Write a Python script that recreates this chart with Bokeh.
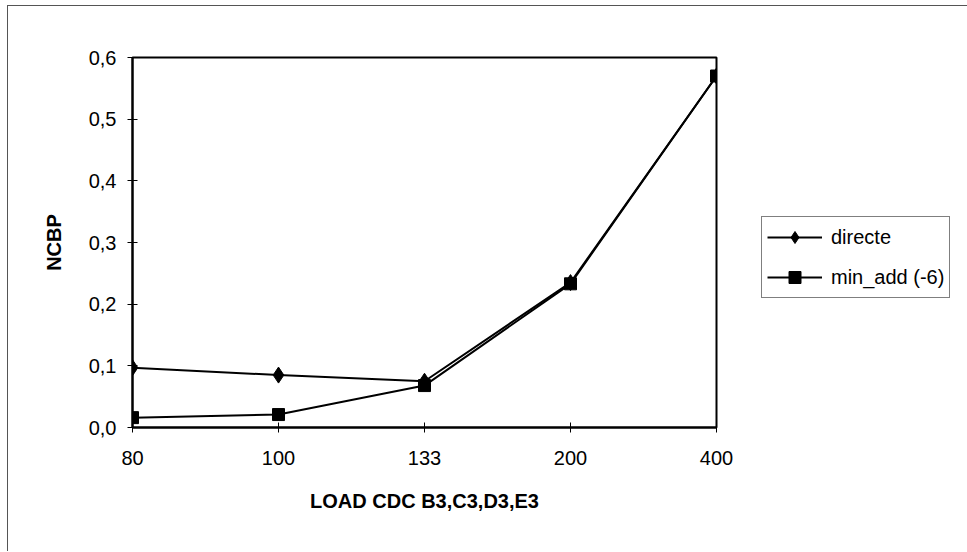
from bokeh.plotting import figure
from bokeh.models import FixedTicker, CustomJSTickFormatter, Legend, LegendItem, ColumnDataSource
from bokeh.embed import file_html
from bokeh.resources import INLINE

categories = ["80", "100", "133", "200", "400"]
directe = [0.097, 0.085, 0.075, 0.235, 0.570]
min_add = [0.016, 0.021, 0.068, 0.233, 0.570]
y_ticks = [0.0, 0.1, 0.2, 0.3, 0.4, 0.5, 0.6]
series_names = ["directe", "min_add (-6)"]

xs = list(range(len(categories)))
FONT = "Liberation Sans"

p = figure(width=958, height=545, output_backend="svg", toolbar_location=None,
           x_range=(0, len(categories) - 1), y_range=(y_ticks[0], y_ticks[-1]),
           frame_width=584, frame_height=370,
           min_border_left=124, min_border_right=250, min_border_top=51, min_border_bottom=124)
p.styles = {"border-left": "1px solid #555", "border-top": "1px solid #555",
            "margin-left": "7px", "margin-top": "5px"}
p.xgrid.visible = False
p.ygrid.visible = False
p.outline_line_color = "black"
p.outline_line_width = 2
p.background_fill_color = "white"
p.border_fill_color = "white"

src1 = ColumnDataSource(dict(x=xs, y=directe))
src2 = ColumnDataSource(dict(x=xs, y=min_add))
l1 = p.line("x", "y", source=src1, line_color="black", line_width=2)
m1 = p.scatter("x", "y", source=src1, marker="diamond", size=16, fill_color="black", line_color="black")
l2 = p.line("x", "y", source=src2, line_color="black", line_width=2)
m2 = p.scatter("x", "y", source=src2, marker="square", size=12, fill_color="black", line_color="black")

for ax in (p.xaxis[0], p.yaxis[0]):
    ax.axis_line_color = "black"
    ax.axis_line_width = 2
    ax.major_tick_line_color = "black"
    ax.major_tick_in = 5
    ax.major_tick_out = 5
    ax.minor_tick_line_color = None
    ax.major_label_text_font = FONT
    ax.major_label_text_font_size = "20px"
    ax.major_label_text_color = "black"
    ax.axis_label_text_font = FONT
    ax.axis_label_text_font_size = "20px"
    ax.axis_label_text_font_style = "bold"
    ax.axis_label_text_color = "black"

p.xaxis.ticker = FixedTicker(ticks=xs)
p.xaxis.formatter = CustomJSTickFormatter(args=dict(labels=categories),
                                          code="return labels[Math.round(tick)];")
p.xaxis.axis_label = "LOAD CDC B3,C3,D3,E3"
p.xaxis.major_label_standoff = 18
p.xaxis.axis_label_standoff = 22

p.yaxis.ticker = FixedTicker(ticks=y_ticks)
p.yaxis.formatter = CustomJSTickFormatter(code="return tick.toFixed(1).replace('.', ',');")
p.yaxis.axis_label = "NCBP"
p.yaxis.major_label_standoff = 11
p.yaxis.axis_label_standoff = 21

legend = Legend(items=[LegendItem(label=series_names[0], renderers=[l1, m1]),
                       LegendItem(label=series_names[1], renderers=[l2, m2])],
                location=(45, 129))
legend.border_line_color = "black"
legend.border_line_width = 1.5
legend.background_fill_alpha = 1
legend.label_text_font = FONT
legend.label_text_font_size = "20px"
legend.label_text_color = "black"
legend.glyph_width = 55
legend.glyph_height = 30
legend.spacing = 10
legend.padding = 5
legend.margin = 0
legend.label_standoff = 9
p.add_layout(legend, "right")

open("out.html", "w").write(file_html(p, INLINE))
